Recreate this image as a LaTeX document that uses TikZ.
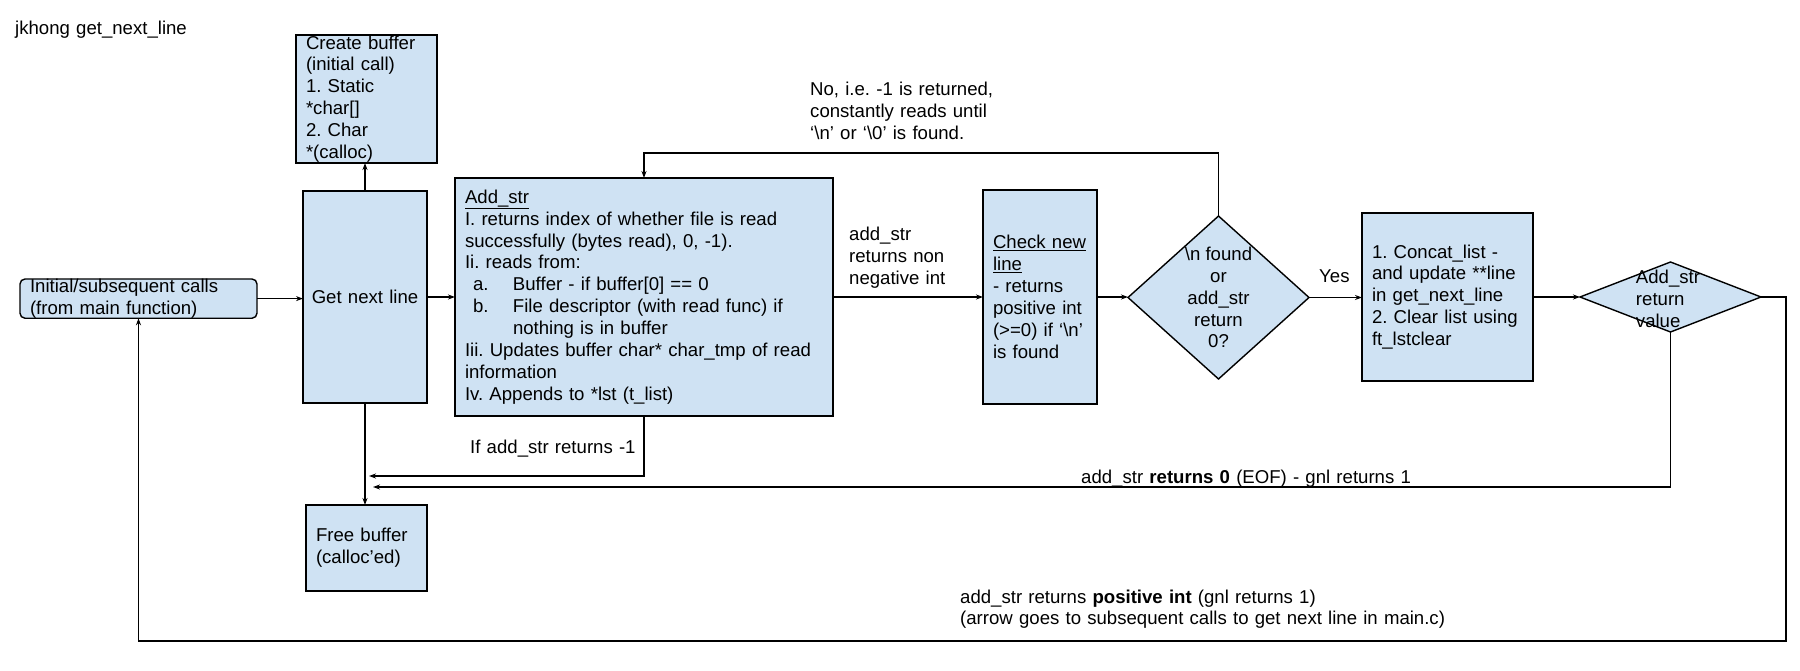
\documentclass[tikz,border=0pt]{standalone}
\usepackage{fontspec}
\setmainfont{Liberation Sans}
\usetikzlibrary{shapes.geometric,arrows.meta}
\definecolor{boxfill}{RGB}{207,226,243}
\newcommand{\bodyfont}{\fontsize{18.6}{21.9}\selectfont\frenchspacing}
\frenchspacing
\begin{document}
\begin{tikzpicture}[x=1pt,y=-1pt,
  box/.style={draw, line width=1.4pt, fill=boxfill, inner xsep=10pt, inner ysep=0pt, outer sep=0pt, align=left, anchor=north west, font=\bodyfont},
  dia/.style={draw, diamond, line width=1.4pt, fill=boxfill, inner sep=0pt, outer sep=0pt},
  lbl/.style={font=\bodyfont, align=left, text width=600pt, anchor=base west, inner sep=0pt},
  arr/.style={line width=1.2pt, -{Stealth[length=7pt,width=5pt]}}
]
\fill[white] (0,0) rectangle (1800,671);
\useasboundingbox (0,0) rectangle (1800,671);

\node[lbl] (title) at (15,35) {jkhong get\_next\_line};

\node[box, minimum width=141pt, minimum height=128pt, text width=121pt] (create) at (296,35)
  {Create buffer\\(initial call)\\1. Static\\{}*char[]\\2. Char\\{}*(calloc)};
\node[box, minimum width=124pt, minimum height=212pt, inner xsep=0pt, text width=124pt, align=center] (gnl) at (303,191) {Get next line};
\node[box, rounded corners=5pt, minimum width=237pt, minimum height=38pt, text width=217pt] (init) at (20,279)
  {Initial/subsequent calls\\(from main function)};
\node[box, minimum width=378pt, minimum height=238pt, text width=358pt] (addstr) at (455,178)
  {\underline{Add\_str}\\
   I. returns index of whether file is read\\
   successfully (bytes read), 0, -1).\\
   Ii. reads from:\\
   \hspace*{8pt}\makebox[40pt][l]{a.}Buffer - if buffer[0] == 0\\
   \hspace*{8pt}\makebox[40pt][l]{b.}File descriptor (with read func) if\\
   \hspace*{48pt}nothing is in buffer\\
   Iii. Updates buffer char* char\_tmp of read\\
   information\\
   Iv. Appends to *lst (t\_list)};
\node[box, minimum width=114pt, minimum height=214pt, text width=94pt] (check) at (983,190)
  {\underline{Check new}\\\underline{line}\\- returns\\positive int\\(>=0) if `\textbackslash n'\\is found};
\node[dia, minimum width=181pt, minimum height=163pt] (d1) at (1218.5,297.5) {};
\node[font=\bodyfont, align=center, inner sep=0pt] (d1t) at (d1.center)
  {\textbackslash n found\\or\\add\_str\\return\\0?};
\node[box, minimum width=171pt, minimum height=168pt, text width=151pt] (concat) at (1362,213)
  {1. Concat\_list -\\and update **line\\in get\_next\_line\\2. Clear list using\\ft\_lstclear};
\node[dia, minimum width=181pt, minimum height=70pt] (d2) at (1670.5,297) {};
\node[font=\bodyfont, align=left, inner sep=0pt] (d2t) at (1668,299) {Add\_str\\return\\value};
\node[box, minimum width=121pt, minimum height=86pt, text width=101pt] (free) at (306,505)
  {Free buffer\\(calloc'ed)};

\draw[arr] (init.east) -- (init.east -| gnl.west);
\draw[arr] (gnl.north) -- (gnl.north |- create.south);
\draw[arr] (gnl.east) -- (addstr.west);
\draw[arr] (addstr.east) -- (check.west);
\draw[arr] (check.east) -- (check.east -| d1.west);
\draw[arr] (d1.east) -- (d1.east -| concat.west);
\draw[arr] (d1.north) -- ++(0,-63) -| (addstr.north);
\draw[arr] (concat.east) -- (d2.west);
\coordinate (rc) at (1786,641);
\draw[arr] (d2.east) -| (rc) -| (init.south);
\coordinate (eofend) at (373,487);
\draw[arr] (d2.south) |- (eofend);
\coordinate (errend) at (369,476);
\draw[arr] (addstr.south) |- (errend);
\draw[arr] (gnl.south) -- (gnl.south |- free.north);

\node[lbl] (nolbl) at (810,96) {No, i.e. -1 is returned,\\constantly reads until\\`\textbackslash n' or `\textbackslash 0' is found.};
\node[lbl] (nnlbl) at (849,241) {add\_str\\returns non\\negative int};
\node[lbl] (yes) at (1319,283) {Yes};
\node[lbl] (errlbl) at (470,453) {If add\_str returns -1};
\node[lbl] (eoflbl) at (1081,483) {add\_str \textbf{returns 0} (EOF) - gnl returns 1};
\node[lbl, font=\fontsize{18.6}{21}\selectfont\frenchspacing] (poslbl) at (960,603)
  {add\_str returns \textbf{positive int} (gnl returns 1)\\(arrow goes to subsequent calls to get next line in main.c)};
\end{tikzpicture}
\end{document}
